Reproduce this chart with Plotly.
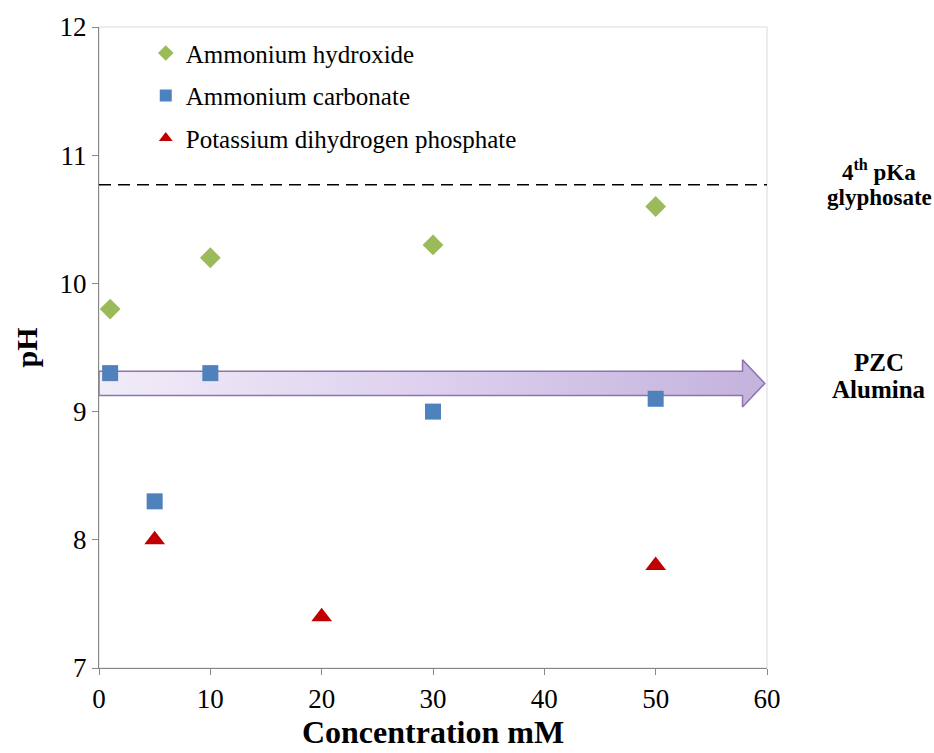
import plotly.graph_objects as go

# ---- data ----
hydroxide_x = [1, 10, 30, 50]
hydroxide_y = [9.8, 10.2, 10.3, 10.6]
carbonate_x = [1, 5, 10, 30, 50]
carbonate_y = [9.3, 8.3, 9.3, 9.0, 9.1]
phosphate_x = [5, 20, 50]
phosphate_y = [8.0, 7.4, 7.8]

pka4_glyphosate = 10.77
pzc_alumina = 9.22
x_range = [0, 60]
y_range = [7, 12]
x_ticks = [0, 10, 20, 30, 40, 50, 60]
y_ticks = [7, 8, 9, 10, 11, 12]

SERIF = "'Liberation Serif', 'Times New Roman', serif"

fig = go.Figure()

# PZC arrow (gradient filled polygon in data coords)
body_h = 0.095
head_h = 0.185
head_base = 57.8
tip = 59.8
ax = [x_range[0], head_base, head_base, tip, head_base, head_base, x_range[0], x_range[0]]
ay = [pzc_alumina + body_h, pzc_alumina + body_h, pzc_alumina + head_h, pzc_alumina,
      pzc_alumina - head_h, pzc_alumina - body_h, pzc_alumina - body_h, pzc_alumina + body_h]
fig.add_trace(go.Scatter(
    x=ax, y=ay, mode="lines", fill="toself",
    fillgradient=dict(type="horizontal",
                      colorscale=[[0, "#f1ecf8"], [0.5, "#ddd0ee"], [1, "#c4b2dc"]]),
    line=dict(color="#8c74b0", width=1.5),
    showlegend=False, hoverinfo="skip"))

# dashed pKa line
fig.add_trace(go.Scatter(
    x=x_range, y=[pka4_glyphosate, pka4_glyphosate], mode="lines",
    line=dict(color="black", width=1.5, dash="12px,7px"),
    showlegend=False, hoverinfo="skip"))

fig.add_trace(go.Scatter(
    x=hydroxide_x, y=hydroxide_y, mode="markers", name="Ammonium hydroxide",
    legendgroup="a",
    marker=dict(symbol="diamond", size=16, color="#9BBB59", line=dict(width=0))))
fig.add_trace(go.Scatter(
    x=carbonate_x, y=carbonate_y, mode="markers", name="Ammonium carbonate",
    legendgroup="b",
    marker=dict(symbol="square", size=16, color="#4F81BD", line=dict(width=0))))
fig.add_trace(go.Scatter(
    x=phosphate_x, y=phosphate_y, mode="markers", name="Potassium dihydrogen phosphate",
    legendgroup="c",
    marker=dict(symbol="triangle-up", size=18, color="#C00000", line=dict(width=0))))

# light frame (top / right)
fig.add_shape(type="rect", xref="paper", yref="paper", x0=0, x1=1, y0=0, y1=1,
              line=dict(color="#d9d9d9", width=1), layer="below")

ann_font = dict(family=SERIF, size=23, color="black")
ann_x = 1.168
fig.add_annotation(xref="paper", yref="y", x=ann_x, xanchor="center", y=pka4_glyphosate + 0.11,
                   text="<b>4<sup>th</sup> pKa</b>", showarrow=False, font=ann_font)
fig.add_annotation(xref="paper", yref="y", x=ann_x, xanchor="center", y=pka4_glyphosate - 0.1,
                   text="<b>glyphosate</b>", showarrow=False, font=ann_font)
fig.add_annotation(xref="paper", yref="y", x=ann_x, xanchor="center", y=pzc_alumina + 0.16,
                   text="<b>PZC</b>", showarrow=False, font=dict(family=SERIF, size=25))
fig.add_annotation(xref="paper", yref="y", x=ann_x, xanchor="center", y=pzc_alumina - 0.05,
                   text="<b>Alumina</b>", showarrow=False, font=dict(family=SERIF, size=25))

fig.update_layout(
    width=934, height=753,
    margin=dict(l=99, r=167, t=25, b=85),
    paper_bgcolor="white", plot_bgcolor="white",
    font=dict(family=SERIF, size=24, color="black"),
    legend=dict(x=0.07, y=0.995, xanchor="left", yanchor="top",
                bgcolor="rgba(0,0,0,0)", font=dict(family=SERIF, size=25),
                tracegroupgap=7, itemsizing="constant"),
    xaxis=dict(range=x_range, tickvals=x_ticks, showgrid=False, zeroline=False,
               showline=True, linecolor="#868686", linewidth=1.3,
               ticks="outside", ticklen=6, tickcolor="#868686",
               tickfont=dict(family=SERIF, size=27),
               title=dict(text="<b>Concentration mM</b>",
                          font=dict(family=SERIF, size=32), standoff=4)),
    yaxis=dict(range=y_range, tickvals=y_ticks, showgrid=False, zeroline=False,
               showline=True, linecolor="#868686", linewidth=1.3,
               ticks="outside", ticklen=6, tickcolor="#868686",
               tickfont=dict(family=SERIF, size=27),
               title=dict(text="<b>pH</b>",
                          font=dict(family=SERIF, size=30), standoff=12)),
)

fig.write_html("out.html")
